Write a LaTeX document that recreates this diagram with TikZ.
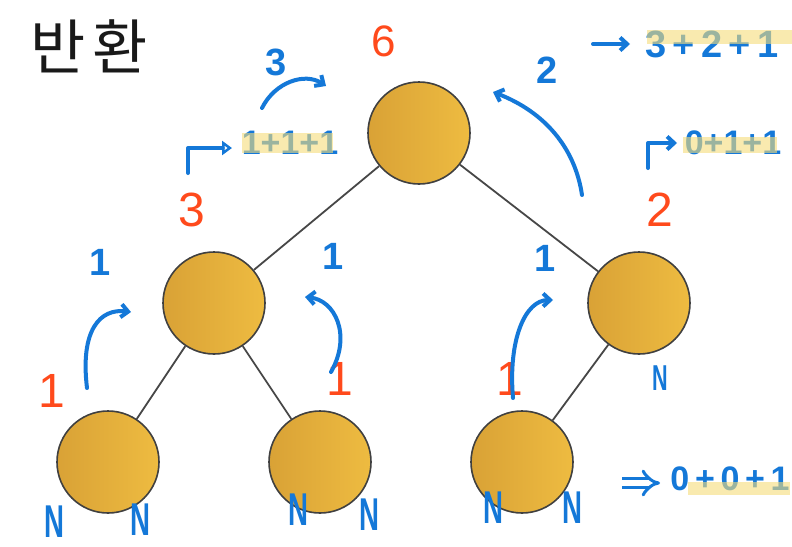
\documentclass[tikz,border=0pt]{standalone}
\usepackage{fontspec}
\usepackage{graphicx}
\setmainfont{Liberation Sans}
\newfontfamily\krfont{Noto Sans CJK KR}
\usetikzlibrary{arrows.meta}
\definecolor{rednum}{HTML}{FF4A1C}
\definecolor{pen}{HTML}{1478D8}
\definecolor{hilite}{HTML}{F6DC7A}
\definecolor{goldfill}{HTML}{ECB448}
\definecolor{golddark}{HTML}{D9A236}
\begin{document}
\begin{tikzpicture}[x=1pt,y=-1pt,
  tnode/.style={circle,draw=black!75,line width=1.6pt,minimum size=102pt,inner sep=0pt,
    left color=golddark,right color=goldfill!90!yellow},
  edge/.style={draw=black!72,line width=1.8pt},
  rnum/.style={text=rednum,font=\fontsize{48}{48}\selectfont,inner sep=0pt},
  pnum/.style={text=pen,font=\bfseries\fontsize{38}{38}\selectfont,inner sep=0pt},
  ptext/.style={text=pen,font=\bfseries\fontsize{34}{34}\selectfont,inner sep=0pt},
  pN/.style={text=pen,font=\bfseries\fontsize{46}{46}\selectfont,inner sep=0pt},
  parrow/.style={draw=pen,line width=4pt,line cap=round,line join=round,-{Straight Barb[length=7pt,width=13pt]}},
  hl/.style={fill=hilite,fill opacity=0.6,draw=none}
]
\useasboundingbox (0,0) rectangle (792,546);
\fill[white] (0,0) rectangle (792,546);

% title
\node[font=\krfont\fontsize{60}{60}\selectfont,text=black!90,inner sep=0pt] (title) at (89,46) {반\hspace{6pt}환};

% tree nodes
\node[tnode] (root) at (419,133) {};
\node[tnode] (lm) at (214,303) {};
\node[tnode] (rm) at (639,303) {};
\node[tnode] (bl) at (108,462) {};
\node[tnode] (bm) at (320,462) {};
\node[tnode] (br) at (522,462) {};
\path[edge] (root) -- (lm);
\path[edge] (root) -- (rm);
\path[edge] (lm) -- (bl);
\path[edge] (lm) -- (bm);
\path[edge] (rm) -- (br);

% red numbers
\node[rnum,font=\fontsize{44}{44}\selectfont] (r6) at (384,41) {6};
\node[rnum] (r3) at (192,210) {3};
\node[rnum] (r2) at (660,210) {2};
\node[rnum] (r1a) at (52,391) {1};
\node[rnum] (r1b) at (340,379) {1};
\node[rnum] (r1c) at (510,379) {1};

% blue handwritten numbers
\node[pnum] (b3) at (276,62) {3};
\node[pnum] (b2) at (547,70) {2};
\node[pnum] (b1a) at (100,262) {1};
\node[pnum] (b1b) at (333,256) {1};
\node[pnum] (b1c) at (545,258) {1};

% N marks
\node[pN] (n1) at (54,522) {\scalebox{0.6}[1]{N}};
\node[pN] (n2) at (140,520) {\scalebox{0.6}[1]{N}};
\node[pN] (n3) at (298,510) {\scalebox{0.6}[1]{N}};
\node[pN] (n4) at (369,515) {\scalebox{0.6}[1]{N}};
\node[pN] (n5) at (493,508) {\scalebox{0.6}[1]{N}};
\node[pN] (n6) at (572,508) {\scalebox{0.6}[1]{N}};
\node[pN,font=\bfseries\fontsize{36}{36}\selectfont] (n7) at (660,378) {\scalebox{0.6}[1]{N}};

% sums
\node[ptext] (s111) at (290,143) {1+1+1};
\node[ptext,font=\bfseries\fontsize{38}{38}\selectfont] (s321) at (712,44) {3\,+\,2\,+\,1};
\node[ptext] (s011) at (733,143) {0+1+1};
\node[ptext] (s001) at (730,479) {0\,+\,0\,+\,1};

% highlights
\fill[hl] (242,133) rectangle (333,153);
\fill[hl] (647,30) rectangle (792,44);
\fill[hl] (683,137) rectangle (777,153);
\fill[hl] (688,482) rectangle (790,495);

% arrows (coordinates for free ends)
\coordinate (a1s) at (87,388);
\coordinate (a1e) at (131,312);
\draw[parrow] (a1s) .. controls (80,330) and (100,308) .. (a1e);
\coordinate (a2s) at (331,372);
\coordinate (a2e) at (305,297);
\draw[parrow] (a2s) .. controls (352,335) and (335,300) .. (a2e);
\coordinate (a3s) at (513,398);
\coordinate (a3e) at (553,300);
\draw[parrow] (a3s) .. controls (508,340) and (525,300) .. (a3e);
\coordinate (a4s) at (262,108);
\coordinate (a4e) at (326,86);
\draw[parrow] (a4s) .. controls (275,82) and (305,72) .. (a4e);
\coordinate (a5s) at (582,195);
\coordinate (a5e) at (493,92);
\draw[parrow] (a5s) .. controls (575,148) and (545,112) .. (a5e);
\coordinate (a6s) at (593,44);
\coordinate (a6e) at (630,44);
\draw[parrow] (a6s) -- (a6e);
\coordinate (a7s) at (188,173);
\coordinate (a7e) at (232,148);
\draw[draw=pen,line width=4pt,line cap=round,line join=round,-{Triangle[open,length=10pt,width=14pt]}] (a7s) -- (188,148) -- (a7e);
\coordinate (a8s) at (648,168);
\coordinate (a8e) at (677,143);
\draw[parrow] (a8s) -- (648,143) -- (a8e);
\coordinate (a9s) at (622,483);
\coordinate (a9e) at (660,483);
\draw[draw=pen,line width=3pt,double,double distance=6pt,-{Implies}] (a9s) -- (a9e);
\end{tikzpicture}
\end{document}
